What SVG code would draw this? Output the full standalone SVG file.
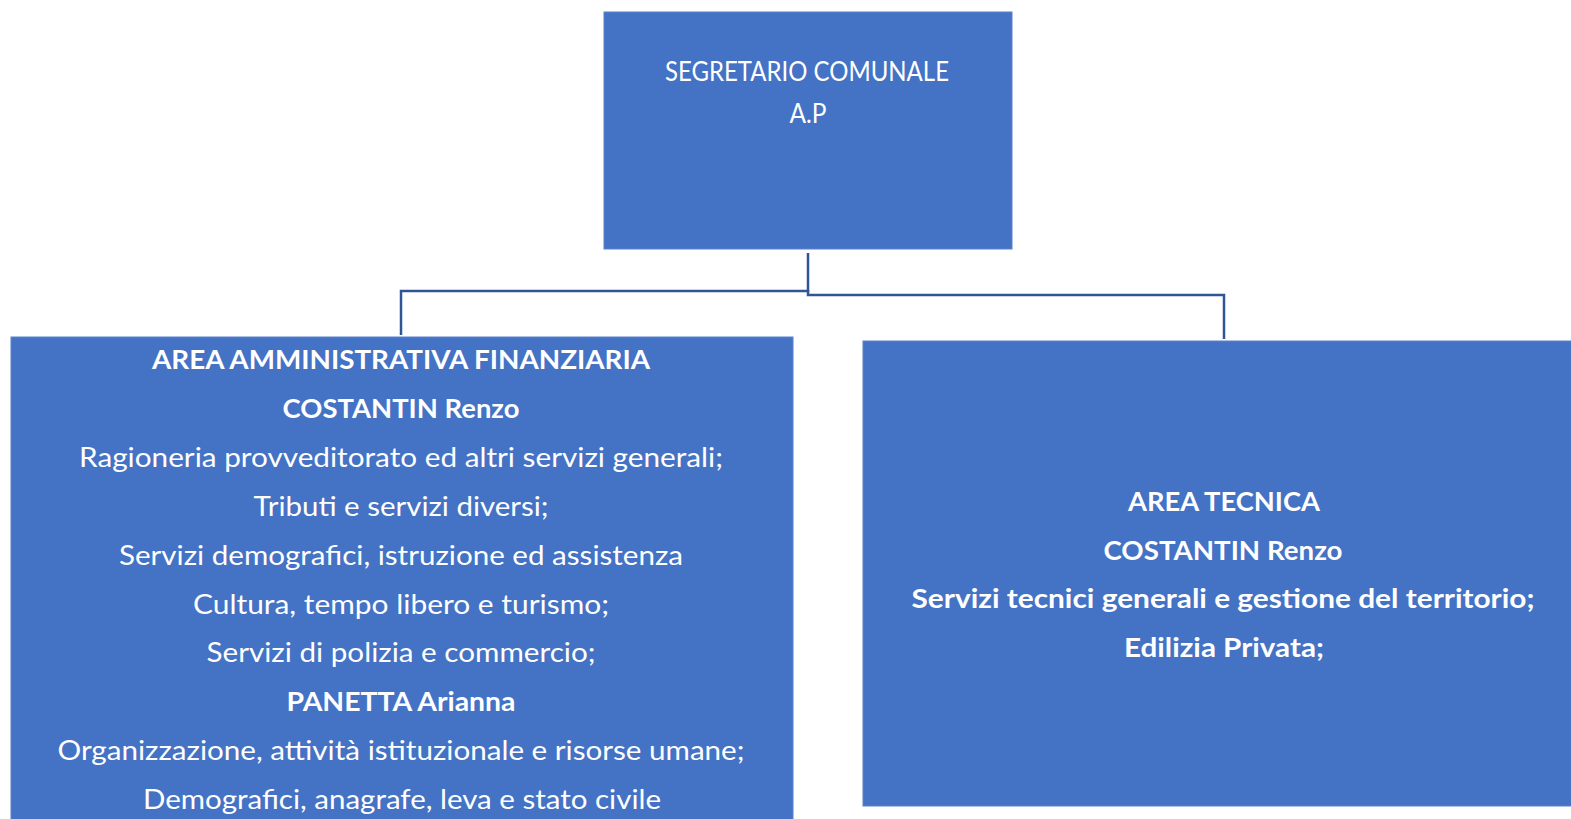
<svg xmlns="http://www.w3.org/2000/svg" width="1571" height="819" viewBox="0 0 1571 819">
<style>
.box{fill:#4472C4;stroke:#5A82CC;stroke-width:1}
.t{font-family:Lato,"Open Sans","Liberation Sans",sans-serif;font-size:26px;fill:#FFFFFF;text-anchor:middle}
.b{font-weight:bold}
.conn{fill:none;stroke:#2F5597;stroke-width:2.5}
</style>
<rect width="1571" height="819" fill="#FFFFFF"/>
<g id="connectors">
<path class="conn" d="M808,253 V291 H401 V335"/>
<path class="conn" d="M808,290 V295 H1224 V339"/>
</g>
<g id="segretario">
<rect class="box" x="604" y="12" width="408" height="237"/>
<text class="t" x="807" y="81" textLength="284" lengthAdjust="spacingAndGlyphs">SEGRETARIO COMUNALE</text>
<text class="t" x="808" y="123" textLength="37" lengthAdjust="spacingAndGlyphs">A.P</text>
</g>
<g id="area-amministrativa">
<rect class="box" x="11" y="337" width="782" height="490"/>
<text class="t b" x="401" y="369" textLength="498" lengthAdjust="spacingAndGlyphs">AREA AMMINISTRATIVA FINANZIARIA</text>
<text class="t b" x="401" y="418" textLength="237" lengthAdjust="spacingAndGlyphs">COSTANTIN Renzo</text>
<text class="t" x="401" y="467" textLength="644" lengthAdjust="spacingAndGlyphs">Ragioneria provveditorato ed altri servizi generali;</text>
<text class="t" x="401" y="516" textLength="295" lengthAdjust="spacingAndGlyphs">Tributi e servizi diversi;</text>
<text class="t" x="401" y="565" textLength="564" lengthAdjust="spacingAndGlyphs">Servizi demografici, istruzione ed assistenza</text>
<text class="t" x="401" y="614" textLength="416" lengthAdjust="spacingAndGlyphs">Cultura, tempo libero e turismo;</text>
<text class="t" x="401" y="662" textLength="389" lengthAdjust="spacingAndGlyphs">Servizi di polizia e commercio;</text>
<text class="t b" x="401" y="711" textLength="229" lengthAdjust="spacingAndGlyphs">PANETTA Arianna</text>
<text class="t" x="401" y="760" textLength="687" lengthAdjust="spacingAndGlyphs">Organizzazione, attività istituzionale e risorse umane;</text>
<text class="t" x="402" y="809" textLength="518" lengthAdjust="spacingAndGlyphs">Demografici, anagrafe, leva e stato civile</text>
</g>
<g id="area-tecnica">
<rect class="box" x="863" y="341" width="712" height="465"/>
<text class="t b" x="1224" y="511" textLength="192" lengthAdjust="spacingAndGlyphs">AREA TECNICA</text>
<text class="t b" x="1223" y="560" textLength="239" lengthAdjust="spacingAndGlyphs">COSTANTIN Renzo</text>
<text class="t b" x="1223" y="608" textLength="623" lengthAdjust="spacingAndGlyphs">Servizi tecnici generali e gestione del territorio;</text>
<text class="t b" x="1224" y="657" textLength="200" lengthAdjust="spacingAndGlyphs">Edilizia Privata;</text>
</g>
</svg>
